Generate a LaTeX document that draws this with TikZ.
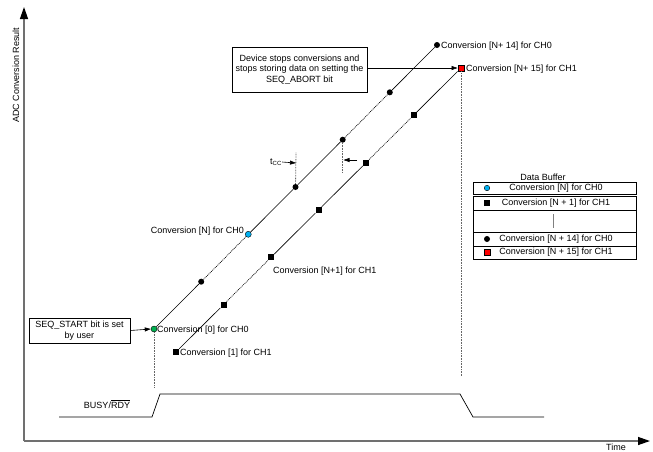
\documentclass[tikz,border=0pt]{standalone}
\usepackage{fontspec}
\setmainfont{Liberation Sans}
\usetikzlibrary{arrows.meta}
\definecolor{cgreen}{HTML}{00B050}
\definecolor{cblue}{HTML}{00B0F0}
\definecolor{cred}{HTML}{FF0000}
\definecolor{axisgray}{HTML}{707070}
\begin{document}
\begin{tikzpicture}[x=1pt,y=-1pt,
  every node/.style={font=\fontsize{9}{10.5}\selectfont},
  axisline/.style={draw=axisgray,line width=1.3pt,-{Triangle[black,fill=black,length=12pt,width=8pt]}},
  dotmark/.style={circle,fill=black,inner sep=0pt,minimum size=6pt},
  sqmark/.style={rectangle,fill=black,inner sep=0pt,minimum size=6pt},
  seg/.style={line width=0.6pt},
  dseg/.style={line width=0.7pt,dash pattern=on 0.9pt off 0.9pt},
  vdot/.style={draw=gray!80!black,line width=0.8pt,dash pattern=on 0.8pt off 0.8pt},
  lbl/.style={inner sep=0pt},
  infobox/.style={draw,line width=0.6pt,align=center,inner sep=2pt},
  arr/.style={line width=0.6pt,-{Triangle[length=6pt,width=4pt]}},
  bufrow/.style={draw,line width=0.6pt},
]
\useasboundingbox (0,0) rectangle (653,451);

% axes
\coordinate (org) at (24,441);
\coordinate (ytip) at (24,7);
\coordinate (xtip) at (650,441);
\draw[axisline] (org) -- (ytip);
\draw[axisline] (org) -- (xtip);
\node[rotate=90] (ylab) at (16,75) {ADC Conversion Result};
\node (xlab) at (616,447) {Time};

% CH0 marks
\node[circle,draw=black,line width=0.4pt,fill=cgreen,inner sep=0pt,minimum size=6pt] (c0) at (154,329) {};
\node[dotmark] (c1) at (201.2,281.7) {};
\node[circle,draw=black,line width=0.4pt,fill=cblue,inner sep=0pt,minimum size=6pt] (c2) at (248.3,234.3) {};
\node[dotmark] (c3) at (295.5,187) {};
\node[dotmark] (c4) at (342.7,139.7) {};
\node[dotmark] (c5) at (389.8,92.3) {};
\node[dotmark] (c6) at (437,45) {};
% CH1 marks
\node[sqmark] (s0) at (176,352) {};
\node[sqmark] (s1) at (223.5,304.7) {};
\node[sqmark] (s2) at (271,257.3) {};
\node[sqmark] (s3) at (318.5,210) {};
\node[sqmark] (s4) at (366,162.7) {};
\node[sqmark] (s5) at (413.5,115.3) {};
\node[rectangle,draw=black,line width=0.4pt,fill=cred,inner sep=0pt,minimum size=6.5pt] (s6) at (461,68) {};

% CH0 line
\draw[seg] (c0) -- (c1);
\draw[dseg] (c1) -- (c2);
\draw[seg] (c2) -- (c3);
\draw[seg] (c3) -- (c4);
\draw[dseg] (c4) -- (c5);
\draw[seg] (c5) -- (c6);
% CH1 line
\draw[seg] (s0) -- (s1);
\draw[dseg] (s1) -- (s2);
\draw[seg] (s2) -- (s3);
\draw[seg] (s3) -- (s4);
\draw[dseg] (s4) -- (s5);
\draw[seg] (s5) -- (s6);

% labels
\node[lbl,anchor=west] (l0) at (157,330) {Conversion [0] for CH0};
\node[lbl,anchor=west] (l1) at (180,353) {Conversion [1] for CH1};
\node[lbl,anchor=east] (lN) at (244,231) {Conversion [N] for CH0};
\node[lbl,anchor=west] (lN1) at (273,271) {Conversion [N+1] for CH1};
\node[lbl,anchor=west] (l14) at (441,46) {Conversion [N+ 14] for CH0};
\node[lbl,anchor=west] (l15) at (466,69) {Conversion [N+ 15] for CH1};

% tCC
\coordinate (t1top) at (296,152);
\coordinate (t2bot) at (342.7,172);
\draw[vdot] (c3) -- (t1top);
\draw[vdot] (c4) -- (t2bot);
\node[lbl] (tcc) at (276,162) {t\textsubscript{\fontsize{6}{7}\selectfont CC}};
\coordinate (t1a) at (296,163);
\coordinate (t2a) at (357,160);
\coordinate (t2b) at (343.5,160);
\draw[arr] (tcc.east) -- (t1a);
\draw[arr] (t2a) -- (t2b);

% guide lines
\coordinate (g0) at (154,387);
\coordinate (g1) at (461,377);
\draw[vdot] (c0) -- (g0);
\draw[vdot] (s6) -- (g1);

% boxes
\node[infobox,minimum width=101pt,minimum height=25pt] (startbox) at (79.5,330.5) {SEQ\_START bit is set\\by user};
\draw[arr] (startbox.east) -- (c0.west);
\node[infobox,minimum width=135pt,minimum height=45pt] (abortbox) at (299.5,69.5) {Device stops conversions and\\stops storing data on setting the\\SEQ\_ABORT bit};
\draw[arr] (abortbox.east |- s6) -- (s6.west);

% BUSY/RDY
\draw[line width=0.7pt] (59,417) -- (152,417) -- (160,394) -- (460,394) -- (473,417) -- (544,417);
\node (busy) at (107,404) {BUSY/$\overline{\mbox{RDY}}$};

% Data buffer
\node (dbt) at (543,177) {Data Buffer};
\draw[bufrow] (473,182) rectangle (636,194);
\draw[bufrow] (473,196) rectangle (636,210);
\draw[bufrow] (473,210) rectangle (636,232);
\draw[bufrow] (473,232) rectangle (636,246);
\draw[bufrow] (473,246) rectangle (636,259);
\node[circle,draw=black,line width=0.4pt,fill=cblue,inner sep=0pt,minimum size=5.5pt] (b1) at (487,188) {};
\node[sqmark] (b2) at (487,203) {};
\node[dotmark] (b4) at (487,239) {};
\node[rectangle,draw=black,line width=0.4pt,fill=cred,inner sep=0pt,minimum size=6pt] (b5) at (487,252.5) {};
\node (t1) at (556,188) {Conversion [N] for CH0};
\node (t2) at (556,203) {Conversion [N + 1] for CH1};
\draw[line width=0.4pt,draw=gray] (553,214) -- (553,228);
\node (t4) at (556,239) {Conversion [N + 14] for CH0};
\node (t5) at (556,252.5) {Conversion [N + 15] for CH1};
\end{tikzpicture}
\end{document}
